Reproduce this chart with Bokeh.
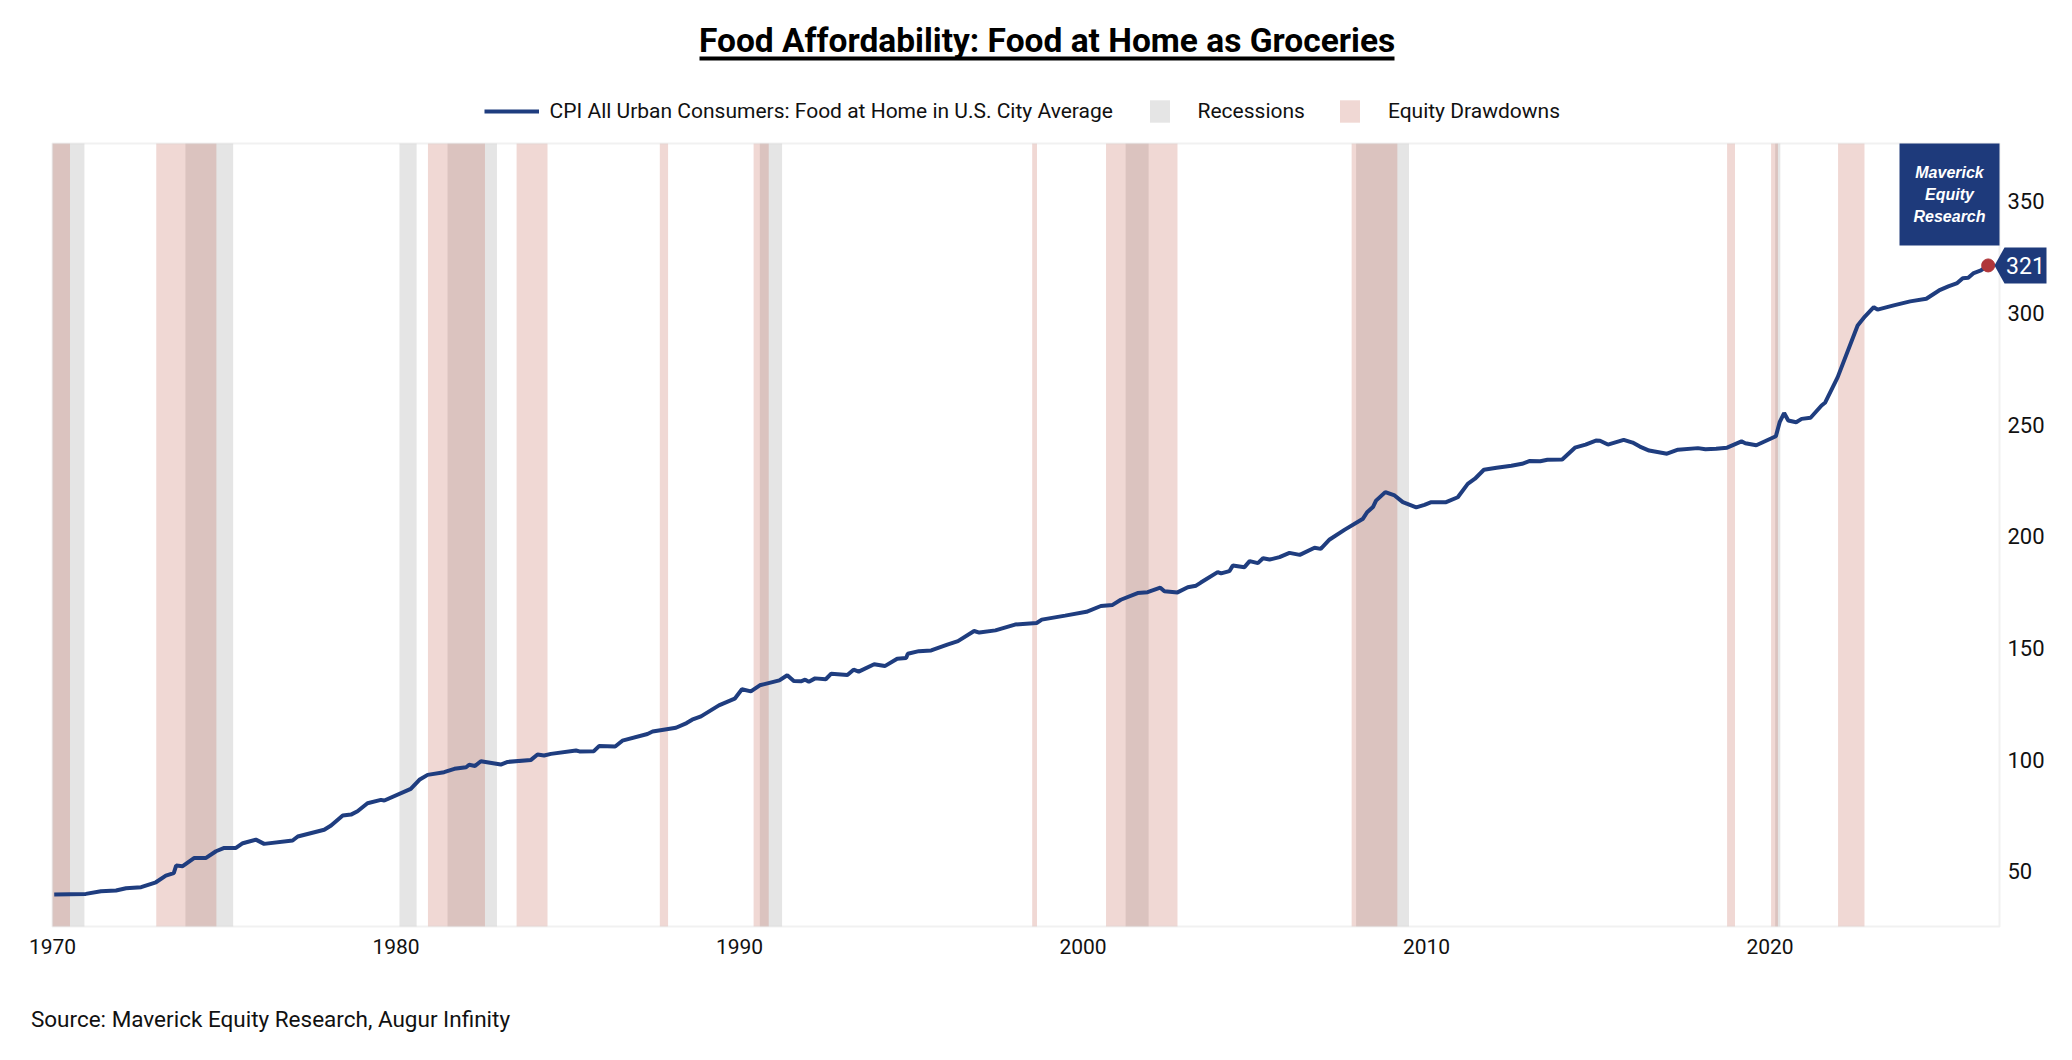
from bokeh.plotting import figure
from bokeh.models import (Range1d, FixedTicker, Label, Legend, LegendItem,
                          BoxAnnotation, PolyAnnotation, Arrow)
from bokeh.embed import file_html
from bokeh.resources import INLINE

# ---------------- data ----------------
years = [1970.05, 1970.97, 1971.41, 1971.85, 1972.14, 1972.58, 1973.01, 1973.30, 1973.53, 1973.60,
         1973.79, 1974.13, 1974.47, 1974.76, 1975.00, 1975.34, 1975.54, 1975.92, 1976.16, 1976.99,
         1977.14, 1977.91, 1978.11, 1978.45, 1978.69, 1978.88, 1979.17, 1979.56, 1979.66, 1980.43,
         1980.68, 1980.92, 1981.40, 1981.70, 1982.04, 1982.13, 1982.30, 1982.47, 1983.05, 1983.25,
         1983.93, 1984.12, 1984.31, 1984.51, 1985.24, 1985.34, 1985.76, 1985.91, 1986.38, 1986.59,
         1987.32, 1987.47, 1988.15, 1988.46, 1988.62, 1988.88, 1989.40, 1989.86, 1990.07, 1990.33,
         1990.59, 1991.16, 1991.39, 1991.58, 1991.79, 1991.91, 1992.02, 1992.20, 1992.51, 1992.67,
         1993.14, 1993.32, 1993.47, 1993.92, 1994.23, 1994.59, 1994.85, 1994.90, 1995.22, 1995.58,
         1996.05, 1996.36, 1996.83, 1996.98, 1997.45, 1998.02, 1998.65, 1998.80, 1999.48, 2000.10,
         2000.52, 2000.86, 2001.10, 2001.59, 2001.88, 2002.25, 2002.37, 2002.75, 2003.05, 2003.29,
         2003.43, 2003.92, 2004.02, 2004.26, 2004.36, 2004.70, 2004.85, 2005.09, 2005.24, 2005.43,
         2005.72, 2006.01, 2006.31, 2006.74, 2006.92, 2007.18, 2007.61, 2008.15, 2008.27, 2008.44,
         2008.53, 2008.80, 2009.07, 2009.31, 2009.70, 2009.94, 2010.14, 2010.57, 2010.91, 2011.20,
         2011.41, 2011.67, 2012.04, 2012.47, 2012.78, 2012.99, 2013.31, 2013.52, 2013.95, 2014.32,
         2014.63, 2014.93, 2015.05, 2015.28, 2015.74, 2016.00, 2016.21, 2016.48, 2017.00, 2017.32,
         2017.90, 2018.12, 2018.43, 2018.75, 2019.17, 2019.28, 2019.60, 2020.17, 2020.28, 2020.41,
         2020.53, 2020.76, 2020.92, 2021.18, 2021.50, 2021.60, 2021.97, 2022.55, 2022.76, 2023.02,
         2023.13, 2023.60, 2024.08, 2024.55, 2024.92, 2025.19, 2025.45, 2025.61, 2025.77, 2025.93,
         2026.14, 2026.35]
cpi = [39.6, 39.9, 41.1, 41.4, 42.4, 42.9, 45.1, 48.1, 49.2, 52.6,
       52.3, 56.0, 56.0, 59.0, 60.5, 60.5, 62.6, 64.2, 62.3, 63.8,
       65.6, 68.6, 70.5, 75.0, 75.4, 76.9, 80.5, 82.0, 81.7, 86.9,
       91.0, 93.2, 94.4, 95.9, 96.6, 97.7, 97.2, 99.3, 97.8, 99.0,
       99.9, 102.3, 101.9, 102.6, 104.1, 103.7, 103.8, 106.1, 105.9, 108.5,
       111.5, 112.6, 114.3, 116.4, 117.9, 119.4, 124.3, 127.3, 131.5, 130.6,
       133.3, 135.5, 137.8, 135.2, 135.1, 135.8, 134.9, 136.4, 136.0, 138.5,
       137.9, 140.3, 139.4, 142.7, 141.9, 145.2, 145.5, 147.4, 148.6, 148.9,
       151.5, 153.1, 157.6, 156.9, 157.9, 160.5, 161.2, 162.7, 164.5, 166.2,
       168.8, 169.3, 171.6, 174.6, 175.0, 177.0, 175.4, 174.9, 177.2, 177.9,
       179.3, 184.0, 183.4, 184.4, 186.9, 186.2, 188.9, 188.0, 190.2, 189.6,
       190.7, 192.6, 191.7, 194.9, 194.4, 198.6, 202.9, 207.9, 210.8, 213.1,
       216.0, 219.8, 218.3, 215.3, 213.0, 214.1, 215.3, 215.3, 217.5, 223.5,
       225.8, 229.8, 230.7, 231.6, 232.5, 233.7, 233.6, 234.3, 234.4, 239.7,
       241.1, 242.9, 242.8, 241.1, 243.2, 242.0, 240.2, 238.4, 237.0, 238.8,
       239.5, 239.0, 239.2, 239.7, 242.5, 241.7, 240.8, 244.8, 251.1, 255.2,
       251.9, 251.1, 252.6, 253.1, 258.6, 259.8, 271.3, 294.4, 298.4, 302.6,
       301.5, 303.4, 305.2, 306.4, 310.1, 311.9, 313.4, 315.6, 315.8, 317.9,
       319.1, 321.3]

recession_start = [1970.00, 1973.87, 1980.10, 1981.50, 1990.59, 2001.24, 2007.95, 2020.15]
recession_end = [1970.93, 1975.26, 1980.60, 1982.94, 1991.24, 2001.91, 2009.49, 2020.30]
drawdown_start = [1970.00, 1973.02, 1980.93, 1983.51, 1987.68, 1990.41, 1998.52, 2000.67,
                  2007.82, 2018.75, 2020.03, 2021.98]
drawdown_end = [1970.51, 1974.77, 1982.59, 1984.41, 1987.92, 1990.85, 1998.66, 2002.75,
                2009.15, 2018.98, 2020.23, 2022.75]

x_ticks = [1970, 1980, 1990, 2000, 2010, 2020]
y_ticks = [50, 100, 150, 200, 250, 300, 350]

title_text = "Food Affordability: Food at Home as Groceries"
series_name = "CPI All Urban Consumers: Food at Home in U.S. City Average"
source_text = "Source: Maverick Equity Research, Augur Infinity"
last_label = "321"

# ---------------- layout ----------------
W, H = 2072, 1060            # whole canvas is the frame
FL, FT = 52, 143             # visible plot box inside the canvas
FW, FH = 1947, 783
X0, X1 = 1970.0, 2026.68     # data extent of the visible plot box
Y0, Y1 = 25.3, 375.9
KX = FW / (X1 - X0)
KY = FH / (Y1 - Y0)

NAVY = "#1f3d7f"
BOXNAVY = "#1e3a7b"
FONT = "Roboto"
TXT = "#111111"


def fx(px):
    return X0 + (px - FL) / KX


def fy(py):
    return Y1 - (py - FT) / KY


p = figure(frame_width=W, frame_height=H, output_backend="svg", toolbar_location=None,
           x_range=Range1d(fx(0), fx(W)), y_range=Range1d(fy(H), fy(0)),
           y_axis_location="right",
           min_border_left=0, min_border_right=0, min_border_top=0, min_border_bottom=0)
p.background_fill_color = "white"
p.border_fill_color = "white"
p.outline_line_color = None
p.grid.visible = False

for ax in (p.xaxis[0], p.yaxis[0]):
    ax.axis_line_color = None
    ax.major_tick_line_color = None
    ax.minor_tick_line_color = None
    ax.major_tick_out = 0
    ax.major_tick_in = 0
    ax.major_label_text_font = FONT
    ax.major_label_text_color = TXT

p.xaxis.fixed_location = Y0
p.xaxis.ticker = FixedTicker(ticks=x_ticks)
p.xaxis.major_label_overrides = {t: str(t) for t in x_ticks}
p.xaxis.major_label_text_font_size = "21px"
p.xaxis.major_label_standoff = 12
p.yaxis.fixed_location = X1
p.yaxis.ticker = FixedTicker(ticks=y_ticks)
p.yaxis.major_label_overrides = {t: str(t) for t in y_ticks}
p.yaxis.major_label_text_font_size = "22px"
p.yaxis.major_label_standoff = 8

# bands
r_rec = p.quad(left=recession_start, right=recession_end, bottom=Y0, top=Y1,
               fill_color="black", fill_alpha=0.1, line_color=None)
r_dd = p.quad(left=drawdown_start, right=drawdown_end, bottom=Y0, top=Y1,
              fill_color=(180, 60, 40), fill_alpha=0.2, line_color=None)

# visible plot border
p.add_layout(BoxAnnotation(left=X0, right=X1, bottom=Y0, top=Y1, fill_alpha=0,
                           line_color="#cfcfcf", line_width=2))

# series
r_line = p.line(years, cpi, line_color=NAVY, line_width=4)
p.scatter([years[-1]], [cpi[-1]], size=13, fill_color="#b0363a", line_color="#b0363a")


# legends (three single-item legends to match spacing)
def add_legend(label, rend, left, gw, gh, standoff):
    leg = Legend(items=[LegendItem(label=label, renderers=[rend])],
                 location=(left, H - (111 + gh / 2)),
                 orientation="horizontal", glyph_width=gw, glyph_height=gh,
                 label_height=gh, label_standoff=standoff, padding=0, margin=0,
                 spacing=0, border_line_color=None, background_fill_alpha=0,
                 label_text_font=FONT, label_text_font_size="21px",
                 label_text_color=TXT)
    p.add_layout(leg, "center")


add_legend(series_name, r_line, 483.6, 55, 28, 11)
add_legend("Recessions", r_rec, 1146.5, 25, 28, 26)
add_legend("Equity Drawdowns", r_dd, 1336.9, 25, 28, 26)

# title and underline
p.add_layout(Label(x=fx(1046.6), y=fy(39.6), text=title_text, text_align="center",
                   text_baseline="middle", text_font=FONT, text_font_style="bold",
                   text_font_size="33.5px", text_color="black"))
p.add_layout(Arrow(x_start=fx(699), y_start=fy(58), x_end=fx(1394), y_end=fy(58),
                   start=None, end=None, line_color="black", line_width=4))

# source
p.add_layout(Label(x=fx(30.4), y=fy(1018.8), text=source_text, text_align="left",
                   text_baseline="middle", text_font=FONT, text_font_size="22.5px",
                   text_color=TXT))

# Maverick box
p.add_layout(BoxAnnotation(left=fx(1899), right=X1, top=Y1, bottom=fy(245),
                           fill_color=BOXNAVY, fill_alpha=1, line_color=None))
for txt, py in (("Maverick", 171.7), ("Equity", 194.0), ("Research", 215.7)):
    p.add_layout(Label(x=fx(1949), y=fy(py), text=txt, text_align="center",
                       text_baseline="middle", text_font="Liberation Sans",
                       text_font_style="bold italic", text_font_size="16px",
                       text_color="white"))

# last value tag
p.add_layout(PolyAnnotation(xs=[fx(1994), fx(2004), fx(2046), fx(2046), fx(2004)],
                            ys=[fy(265), fy(247), fy(247), fy(283), fy(283)],
                            fill_color=BOXNAVY, fill_alpha=1, line_color=None))
p.add_layout(Label(x=fx(2025), y=fy(265), text=last_label, text_align="center",
                   text_baseline="middle", text_font=FONT, text_font_size="23px",
                   text_color="white"))

open("out.html", "w").write(file_html(p, INLINE))
